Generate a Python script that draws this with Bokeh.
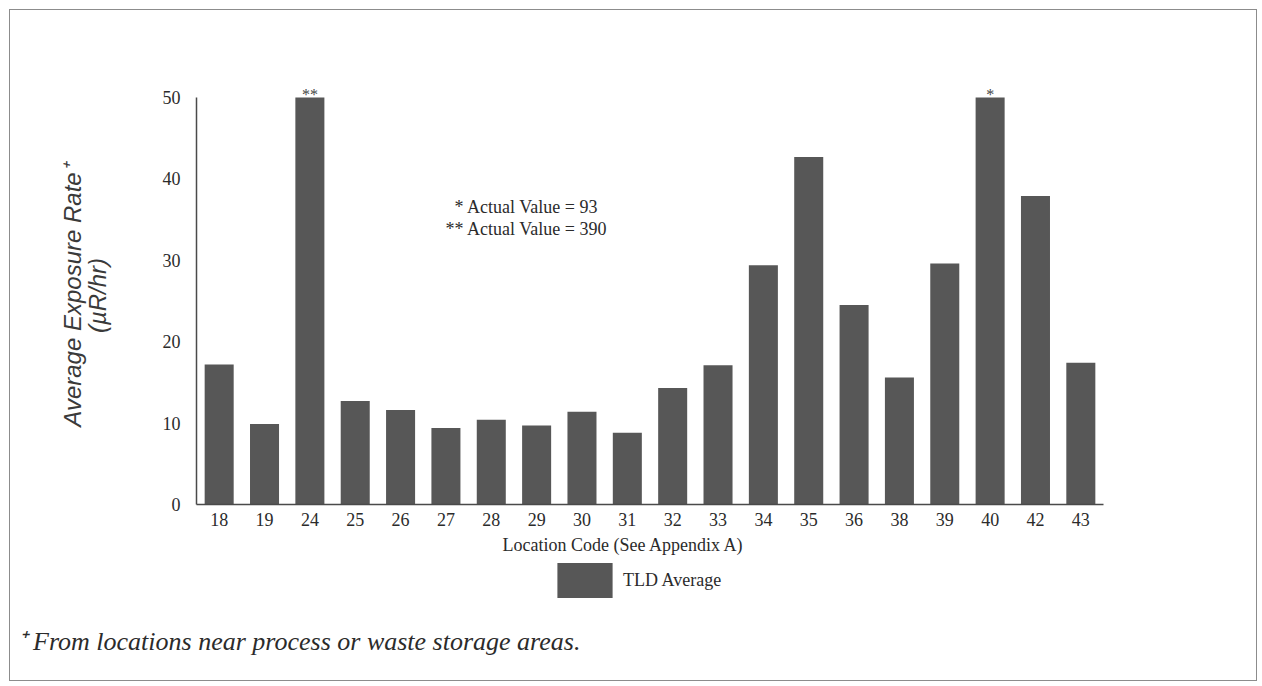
from bokeh.plotting import figure
from bokeh.layouts import column
from bokeh.models import (FactorRange, Range1d, LinearAxis, FixedTicker, Legend,
                          LegendItem, Title, ColumnDataSource)
from bokeh.embed import file_html
from bokeh.resources import INLINE
from bokeh.core.properties import value

# ---- data ----
locations = ["18", "19", "24", "25", "26", "27", "28", "29", "30", "31",
             "32", "33", "34", "35", "36", "38", "39", "40", "42", "43"]
tld_average = [17.2, 9.9, 50, 12.7, 11.6, 9.4, 10.4, 9.7, 11.4, 8.8,
               14.3, 17.1, 29.4, 42.7, 24.5, 15.6, 29.6, 50, 37.9, 17.4]
capped_locations = ["24", "40"]
capped_marks = ["**", "*"]
capped_level = [50, 50]
notes = ["* Actual Value = 93", "** Actual Value = 390"]
y_ticks = [0, 10, 20, 30, 40, 50]
series_name = "TLD Average"
footnote = "\u207a From locations near process or waste storage areas."

SERIF = "Liberation Serif"
SANS = "Liberation Sans"
TXT = "#2b2b2b"
BAR = "#575757"
AX = "#4a4a4a"

p = figure(x_range=FactorRange(factors=locations), y_range=Range1d(0, 51.35),
           frame_width=907, frame_height=418,
           min_border_left=186, min_border_right=153, min_border_top=76,
           min_border_bottom=57,
           output_backend="svg", toolbar_location=None, tools="")
p.outline_line_color = None
p.xgrid.grid_line_color = None
p.ygrid.grid_line_color = None

src = ColumnDataSource(data=dict(loc=locations, val=tld_average))
bars = p.vbar(x="loc", top="val", width=0.64, source=src,
              fill_color=BAR, line_color=None)

msrc = ColumnDataSource(data=dict(loc=capped_locations, lev=capped_level, mark=capped_marks))
p.text(x="loc", y="lev", text="mark", source=msrc, text_align="center",
       text_baseline="alphabetic", y_offset=-3, text_font=value(SERIF),
       text_font_size="16px", text_color="#444444")

p.text(x=[7.28, 7.28], y=[36.5, 33.9], text=notes, text_align="center",
       text_baseline="middle", text_font=value(SERIF), text_font_size="18px",
       text_color=TXT)

# y axis
ya = p.yaxis[0]
ya.ticker = FixedTicker(ticks=y_ticks)
ya.bounds = (0, 50)
ya.major_tick_out = 0
ya.major_tick_in = 0
ya.minor_tick_out = 0
ya.minor_tick_in = 0
ya.major_label_standoff = 16
ya.axis_line_color = AX
ya.axis_line_width = 1.5
ya.major_label_text_font = SERIF
ya.major_label_text_font_size = "18px"
ya.major_label_text_color = TXT

for lab, stand in (("(µR/hr)", 49), ("Average Exposure Rate\u207a", -5)):
    ax = LinearAxis(ticker=FixedTicker(ticks=[]), axis_label=lab,
                    axis_line_color=None, major_tick_out=0, major_tick_in=0,
                    minor_tick_out=0, minor_tick_in=0, major_label_standoff=0,
                    axis_label_standoff=stand, axis_label_text_font=SANS,
                    axis_label_text_font_style="italic",
                    axis_label_text_font_size="24px", axis_label_text_color="#3a3a3a")
    p.add_layout(ax, "left")

# x axis
xa = p.xaxis[0]
xa.major_tick_out = 0
xa.major_tick_in = 0
xa.axis_line_color = AX
xa.axis_line_width = 1.5
xa.major_label_standoff = 8
xa.major_label_text_font = SERIF
xa.major_label_text_font_size = "18px"
xa.major_label_text_color = TXT

p.add_layout(Title(text="Location Code (See Appendix A)", align="left", offset=306,
                   standoff=8, text_font=SERIF, text_font_style="normal",
                   text_font_size="18px", text_color=TXT), "below")

# ---- lower strip: legend + footnote ----
q = figure(x_range=p.x_range, y_range=Range1d(100, 200),
           frame_width=907, frame_height=59,
           min_border_left=186, min_border_right=153, min_border_top=0,
           min_border_bottom=60, x_axis_type=None, y_axis_type=None, title=None,
           output_backend="svg", toolbar_location=None, tools="")
q.outline_line_color = None
proxy = q.vbar(x="loc", top="val", width=0.64, source=src,
               fill_color=BAR, line_color=None)
proxy.visible = False
legend = Legend(items=[LegendItem(label=series_name, renderers=[proxy])],
                location=(354, 18), orientation="horizontal",
                glyph_width=69, glyph_height=44, label_height=44, label_standoff=4,
                label_text_font=SERIF, label_text_font_size="18px", label_text_color=TXT,
                border_line_color=None, background_fill_alpha=0, margin=0, padding=2,
                inactive_fill_alpha=0)
q.add_layout(legend, "center")

q.add_layout(Title(text=footnote, align="left", offset=-179, standoff=9,
                   text_font=SERIF, text_font_style="italic", text_font_size="26px",
                   text_color=TXT), "below")

layout = column(p, q, spacing=0,
                styles={"border": "1px solid #8c8c8c", "margin-left": "9px",
                        "margin-top": "9px"})

open("out.html", "w").write(file_html(layout, INLINE))
